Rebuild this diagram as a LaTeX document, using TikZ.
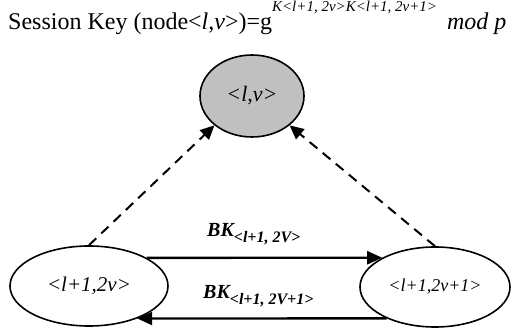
\documentclass[tikz,border=0pt]{standalone}
\usepackage{fontspec}
\setmainfont{Liberation Serif}
\usetikzlibrary{shapes.geometric,arrows.meta}
\definecolor{rootgray}{RGB}{192,192,192}
\begin{document}
\begin{tikzpicture}[x=1pt,y=-1pt,
        keynode/.style={draw, ellipse, line width=1.6pt, inner sep=0pt},
        bkarrow/.style={line width=2.4pt, -{Triangle[length=15pt,width=13pt]}},
        uparrow/.style={line width=2pt, dash pattern=on 10pt off 7pt, -{Triangle[length=14pt,width=13pt]}},
        bklabel/.style={anchor=base west, inner sep=0pt, font=\fontsize{20}{24}\selectfont\bfseries\itshape}]
    \useasboundingbox (0,0) rectangle (512,331);

    \node[anchor=base west, inner sep=0pt, font=\fontsize{24}{28}\selectfont] (title) at (8,30)
        {Session Key (node<\textit{l},\textit{v}>)=g\raisebox{18pt}{\fontsize{15}{18}\selectfont\itshape K<l+1, 2v>K<l+1, 2v+1>}\hspace{10pt}\textit{mod p}};

    \node[keynode, fill=rootgray, minimum width=104pt, minimum height=82pt,
        font=\fontsize{22}{26}\selectfont\itshape] (root) at (252,96) {<l,v>};
    \node[keynode, minimum width=158pt, minimum height=80pt,
        font=\fontsize{21}{25}\selectfont\itshape] (left) at (89,286) {<l+1,2v>};
    \node[keynode, minimum width=150pt, minimum height=80pt,
        font=\fontsize{18}{22}\selectfont\itshape] (right) at (435,287) {<l+1,2v+1>};

    \node[bklabel] (bk1) at (207,237) {BK\raisebox{-6pt}{\fontsize{16}{18}\selectfont <l+1, 2V>}};
    \node[bklabel] (bk2) at (203,299) {BK\raisebox{-6pt}{\fontsize{16}{18}\selectfont <l+1, 2V+1>}};

    \foreach \u/\v in {left.26/right.151, right.213/left.326}{
        \draw (\u) edge[bkarrow] (\v);
    }
    \foreach \u/\v in {left.north/root.218, right.north/root.322}{
        \draw (\u) edge[uparrow] (\v);
    }
\end{tikzpicture}
\end{document}
